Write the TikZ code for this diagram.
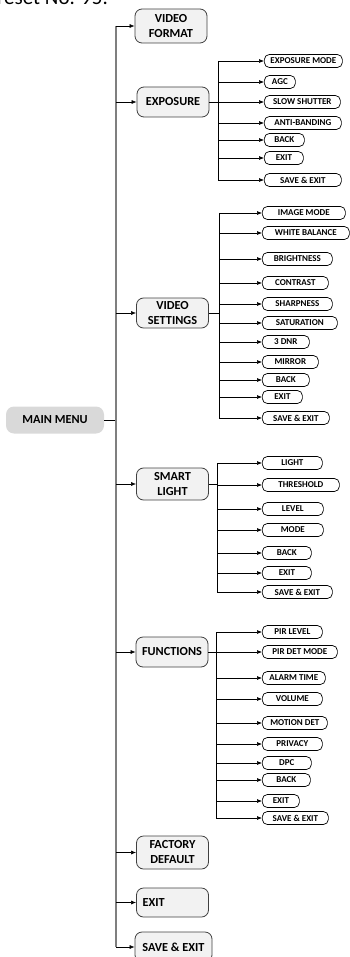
\documentclass[tikz,border=0pt]{standalone}
\usepackage{fontspec}
\setmainfont{Carlito}
\usetikzlibrary{arrows.meta}
\definecolor{mBoxFill}{HTML}{F2F2F2}
\definecolor{mMainFill}{HTML}{D9D9D9}
\definecolor{mEdge}{HTML}{404040}
\definecolor{mTrunk}{HTML}{7F7F7F}

\begin{document}
\begin{tikzpicture}[x=1pt, y=-1pt,
      topbox/.style={draw=mEdge, fill=mBoxFill, rounded corners=7pt, line width=0.8pt,
                 minimum width=72pt, minimum height=31pt, inner sep=2pt, align=center,
                 font=\bfseries\fontsize{12.3}{15}\selectfont},
      mainbox/.style={fill=mMainFill, rounded corners=8pt, minimum width=98pt,
                 minimum height=27pt, font=\bfseries\fontsize{12.3}{15}\selectfont},
      item/.style={draw, fill=white, rounded corners=5pt, line width=0.7pt, anchor=west,
                 minimum height=13pt, inner sep=1pt, font=\bfseries\fontsize{9}{10}\selectfont},
      br/.style={-{Latex[length=5pt, width=4pt]}, line width=0.6pt},
      sub/.style={line width=0.6pt},
      trunk/.style={mTrunk, line width=1.3pt}]
    \useasboundingbox (0,0) rectangle (350,957);
    \clip (0,0) rectangle (350,957);
    \node[anchor=base east, inner sep=0pt, font=\fontsize{21}{24}\selectfont] (hd) at (108,5) {Preset No. 95.};

    \node[mainbox] (mm) at (55,420) {MAIN MENU};
    \node[topbox, minimum height=34pt] (vf) at (171,26) {VIDEO\\FORMAT};
    \node[topbox, minimum height=30pt] (exp) at (173,102) {EXPOSURE};
    \node[topbox, minimum height=30pt] (vs) at (172.5,313) {VIDEO\\SETTINGS};
    \node[topbox, minimum height=32pt] (sl) at (172.5,484) {SMART\\LIGHT};
    \node[topbox, minimum height=30pt] (fn) at (172,652) {FUNCTIONS};
    \node[topbox, minimum height=33pt] (fd) at (172.5,852.5) {FACTORY\\DEFAULT};
    \node[topbox, minimum height=29pt, text width=60pt, align=left] (ex) at (172.5,902.5) {EXIT};
    \node[topbox, minimum height=30pt, minimum width=77pt] (se) at (173.5,947) {SAVE \& EXIT};

    \node[item, minimum width=78pt] (e1) at (264,61)  {EXPOSURE MODE};
    \node[item, minimum width=31pt] (e2) at (264,82)  {AGC};
    \node[item, minimum width=76pt] (e3) at (264,102) {SLOW SHUTTER};
    \node[item, minimum width=77pt] (e4) at (264,123) {ANTI-BANDING};
    \node[item, minimum width=40pt] (e5) at (264,140) {BACK};
    \node[item, minimum width=39pt] (e6) at (264,158) {EXIT};
    \node[item, minimum width=77pt] (e7) at (264,180) {SAVE \& EXIT};

    \node[item, minimum width=83pt] (v1)  at (262,213) {IMAGE MODE};
    \node[item, minimum width=87pt] (v2)  at (262,233) {WHITE BALANCE};
    \node[item, minimum width=70pt] (v3)  at (262,259) {BRIGHTNESS};
    \node[item, minimum width=66pt] (v4)  at (262,283) {CONTRAST};
    \node[item, minimum width=70pt] (v5)  at (262,304) {SHARPNESS};
    \node[item, minimum width=75pt] (v6)  at (262,323) {SATURATION};
    \node[item, minimum width=47pt] (v7)  at (262,342) {3 DNR};
    \node[item, minimum width=56pt] (v8)  at (262,362) {MIRROR};
    \node[item, minimum width=47pt] (v9)  at (262,380) {BACK};
    \node[item, minimum width=40pt] (v10) at (262,397) {EXIT};
    \node[item, minimum width=67pt] (v11) at (262,418) {SAVE \& EXIT};

    \node[item, minimum width=60pt] (s1) at (262,463) {LIGHT};
    \node[item, minimum width=77pt] (s2) at (262,485) {THRESHOLD};
    \node[item, minimum width=61pt] (s3) at (262,509) {LEVEL};
    \node[item, minimum width=61pt] (s4) at (262,530) {MODE};
    \node[item, minimum width=49pt] (s5) at (262,553) {BACK};
    \node[item, minimum width=49pt] (s6) at (262,573) {EXIT};
    \node[item, minimum width=70pt] (s7) at (262,592) {SAVE \& EXIT};

    \node[item, minimum width=60pt] (f1)  at (262,632) {PIR LEVEL};
    \node[item, minimum width=75pt] (f2)  at (262,652) {PIR DET MODE};
    \node[item, minimum width=63pt] (f3)  at (262,678) {ALARM TIME};
    \node[item, minimum width=60pt] (f4)  at (262,699) {VOLUME};
    \node[item, minimum width=65pt] (f5)  at (262,723) {MOTION DET};
    \node[item, minimum width=60pt] (f6)  at (262,744) {PRIVACY};
    \node[item, minimum width=49pt] (f7)  at (262,763) {DPC};
    \node[item, minimum width=48pt] (f8)  at (262,780) {BACK};
    \node[item, minimum width=37pt] (f9)  at (262,801) {EXIT};
    \node[item, minimum width=66pt] (f10) at (262,818) {SAVE \& EXIT};

    \coordinate (mT) at (116,0);
    \coordinate (eT) at (218,0);
    \coordinate (vT) at (219,0);
    \coordinate (sT) at (217,0);
    \coordinate (fT) at (216,0);

    \draw[sub] (mm) -- (mm -| mT);
    \draw[trunk] (mT |- vf) -- (mT |- se);
    \draw[br] (mT |- vf) -- (vf);
    \draw[br] (mT |- exp) -- (exp);
    \draw[br] (mT |- vs) -- (vs);
    \draw[br] (mT |- sl) -- (sl);
    \draw[br] (mT |- fn) -- (fn);
    \draw[br] (mT |- fd) -- (fd);
    \draw[br] (mT |- ex) -- (ex);
    \draw[br] (mT |- se) -- (se);

    \draw[sub] (exp) -- (exp -| eT);
    \draw[sub] (eT |- e1) -- (eT |- e7);
    \draw[br] (eT |- e1) -- (e1);
    \draw[br] (eT |- e2) -- (e2);
    \draw[br] (eT |- e3) -- (e3);
    \draw[br] (eT |- e4) -- (e4);
    \draw[br] (eT |- e5) -- (e5);
    \draw[br] (eT |- e6) -- (e6);
    \draw[br] (eT |- e7) -- (e7);

    \draw[sub] (vs) -- (vs -| vT);
    \draw[sub] (vT |- v1) -- (vT |- v11);
    \draw[br] (vT |- v1) -- (v1);
    \draw[br] (vT |- v2) -- (v2);
    \draw[br] (vT |- v3) -- (v3);
    \draw[br] (vT |- v4) -- (v4);
    \draw[br] (vT |- v5) -- (v5);
    \draw[br] (vT |- v6) -- (v6);
    \draw[br] (vT |- v7) -- (v7);
    \draw[br] (vT |- v8) -- (v8);
    \draw[br] (vT |- v9) -- (v9);
    \draw[br] (vT |- v10) -- (v10);
    \draw[br] (vT |- v11) -- (v11);

    \draw[sub] (sl) -- (sl -| sT);
    \draw[sub] (sT |- s1) -- (sT |- s7);
    \draw[br] (sT |- s1) -- (s1);
    \draw[br] (sT |- s2) -- (s2);
    \draw[br] (sT |- s3) -- (s3);
    \draw[br] (sT |- s4) -- (s4);
    \draw[br] (sT |- s5) -- (s5);
    \draw[br] (sT |- s6) -- (s6);
    \draw[br] (sT |- s7) -- (s7);

    \draw[sub] (fn) -- (fn -| fT);
    \draw[sub] (fT |- f1) -- (fT |- f10);
    \draw[br] (fT |- f1) -- (f1);
    \draw[br] (fT |- f2) -- (f2);
    \draw[br] (fT |- f3) -- (f3);
    \draw[br] (fT |- f4) -- (f4);
    \draw[br] (fT |- f5) -- (f5);
    \draw[br] (fT |- f6) -- (f6);
    \draw[br] (fT |- f7) -- (f7);
    \draw[br] (fT |- f8) -- (f8);
    \draw[br] (fT |- f9) -- (f9);
    \draw[br] (fT |- f10) -- (f10);
  \end{tikzpicture}
\end{document}
